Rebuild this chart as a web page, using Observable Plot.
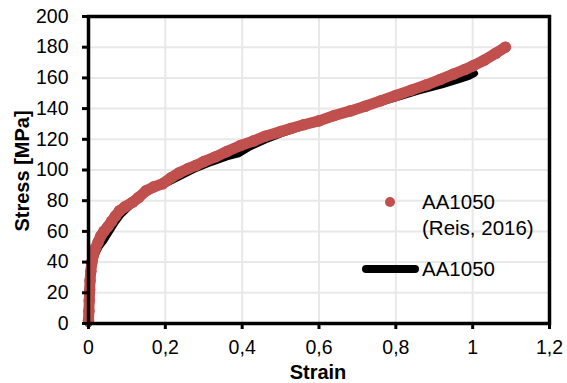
<!DOCTYPE html>
<html>
<head>
<meta charset="utf-8">
<script src="https://cdn.jsdelivr.net/npm/d3@7"></script>
<script src="https://cdn.jsdelivr.net/npm/@observablehq/plot@0.6"></script>
<style>
  html, body { margin: 0; padding: 0; background: #fff; }
  svg { display: block; }
</style>
</head>
<body>
<div id="chart"></div>
<script>
// Tick values and labels
const xTicks = [0, 0.2, 0.4, 0.6, 0.8, 1, 1.2];
const xTickLabels = ["0", "0,2", "0,4", "0,6", "0,8", "1", "1,2"];
const yTicks = [0, 20, 40, 60, 80, 100, 120, 140, 160, 180, 200];

// Series 1: AA1050 (Reis, 2016) — red markers
const reisStrain = [0.000, 0.001, 0.002, 0.003, 0.004, 0.006, 0.009, 0.013, 0.018, 0.025,
  0.032, 0.040, 0.050, 0.060, 0.070, 0.081, 0.095, 0.115, 0.130, 0.150,
  0.170, 0.193, 0.215, 0.235, 0.260, 0.280, 0.300, 0.330, 0.360, 0.396,
  0.430, 0.460, 0.500, 0.526, 0.560, 0.600, 0.640, 0.682, 0.720, 0.760,
  0.800, 0.840, 0.880, 0.916, 0.950, 0.980, 1.002, 1.030, 1.060, 1.085];
const reisStress = [2, 8, 15, 22, 28, 34, 40, 45, 49, 53,
  57, 60, 63, 66.5, 70, 73.5, 76, 79, 82, 86.5,
  89, 91, 95, 98, 101, 103, 105.5, 108.5, 112, 116,
  119, 122, 125, 127, 129.5, 132, 135.5, 138.5, 141.5, 145,
  148.5, 152, 155.5, 159, 162.5, 165.5, 168, 171.5, 176, 180];

// Series 2: AA1050 — black line
const aaStrain = [0.000, 0.002, 0.004, 0.007, 0.011, 0.018, 0.028, 0.040, 0.055, 0.070,
  0.085, 0.110, 0.140, 0.170, 0.200, 0.240, 0.280, 0.320, 0.360, 0.390,
  0.420, 0.460, 0.500, 0.560, 0.620, 0.680, 0.740, 0.800, 0.860, 0.920,
  0.960, 0.990, 1.005];
const aaStress = [0, 12, 22, 31, 39, 45, 50, 54, 60, 66,
  71, 77, 84, 88, 91, 96, 101, 105, 108.5, 110.5,
  115, 119.5, 123.5, 128.5, 133, 137.5, 142.5, 147, 151.5, 155.5,
  158.5, 161, 163];

const reis = reisStrain.map((x, i) => ({x, y: reisStress[i]}));
const aa = aaStrain.map((x, i) => ({x, y: aaStress[i]}));

const RED = "#C0504D";
const FONT = "'Liberation Sans', Arial, sans-serif";

const chart = Plot.plot({
  width: 567,
  height: 383,
  marginLeft: 88,
  marginRight: 18,
  marginTop: 16,
  marginBottom: 60,
  style: {fontFamily: FONT, fontSize: "19.5px", color: "#000", background: "#fff", overflow: "visible"},
  x: {domain: [0, 1.2]},
  y: {domain: [0, 200]},
  marks: [
    Plot.gridX(xTicks, {stroke: "#e8e8e8", strokeOpacity: 1, strokeWidth: 2}),
    Plot.gridY(yTicks, {stroke: "#e8e8e8", strokeOpacity: 1, strokeWidth: 2}),
    Plot.line(aa, {x: "x", y: "y", stroke: "black", strokeWidth: 7, strokeLinecap: "round", strokeLinejoin: "round"}),
    Plot.line(reis, {x: "x", y: "y", stroke: RED, strokeWidth: 11, strokeLinecap: "round", strokeLinejoin: "round"}),
    Plot.dot(reis, {x: "x", y: "y", r: 5.8, fill: RED, stroke: "none"}),
    Plot.frame({stroke: "black", strokeWidth: 3.5}),
    Plot.axisX(xTicks, {tickFormat: d => xTickLabels[xTicks.indexOf(d)], tickSize: 6, tickPadding: 11, strokeWidth: 3, label: null}),
    Plot.axisY(yTicks, {tickSize: 6, tickPadding: 14, strokeWidth: 3, label: null})
  ]
});

document.getElementById("chart").appendChild(chart);

// Axis titles and legend
const svg = d3.select(chart);
svg.append("text")
  .attr("x", 318).attr("y", 379)
  .attr("text-anchor", "middle")
  .attr("font-family", FONT).attr("font-size", 20).attr("font-weight", "bold")
  .attr("fill", "black")
  .text("Strain");
svg.append("text")
  .attr("transform", "translate(29,171) rotate(-90)")
  .attr("text-anchor", "middle")
  .attr("font-family", FONT).attr("font-size", 20).attr("font-weight", "bold")
  .attr("fill", "black")
  .text("Stress [MPa]");

const legend = svg.append("g")
  .attr("font-family", FONT).attr("font-size", 20.5).attr("fill", "black")
  .attr("text-anchor", "start");
legend.append("circle").attr("cx", 390).attr("cy", 202).attr("r", 5).attr("fill", RED);
legend.append("text").attr("x", 422).attr("y", 209).attr("text-anchor", "start").text("AA1050");
legend.append("text").attr("x", 422).attr("y", 235).attr("text-anchor", "start").text("(Reis, 2016)");
legend.append("line").attr("x1", 366).attr("x2", 415).attr("y1", 269).attr("y2", 269)
  .attr("stroke", "black").attr("stroke-width", 8).attr("stroke-linecap", "round");
legend.append("text").attr("x", 422).attr("y", 276).attr("text-anchor", "start").text("AA1050");
</script>
</body>
</html>
